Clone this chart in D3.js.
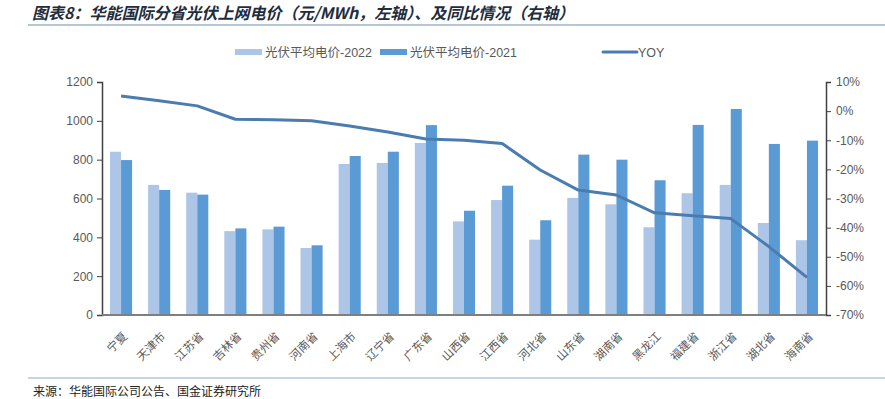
<!DOCTYPE html>
<html>
<head>
<meta charset="utf-8">
<script src="https://cdn.jsdelivr.net/npm/d3@7"></script>
<style>
  body { margin: 0; background: #fff; }
  #chart svg { display: block; }
</style>
</head>
<body>
<div id="chart"></div>
<script>
const provinces = ["宁夏", "天津市", "江苏省", "吉林省", "贵州省", "河南省", "上海市", "辽宁省", "广东省", "山西省",
    "江西省", "河北省", "山东省", "湖南省", "黑龙江", "福建省", "浙江省", "湖北省", "海南省"];
const price2022 = [841, 670, 630, 432, 441, 345, 778, 783, 886, 482, 592, 388, 603, 570, 452, 627, 670, 474, 385];
const price2021 = [798, 644, 620, 446, 455, 359, 819, 841, 978, 537, 666, 488, 826, 800, 694, 979, 1061, 881, 898];
const yoy = [5.2, 3.6, 1.8, -2.8, -3.0, -3.3, -5.1, -7.2, -9.6, -10.0, -11.1, -20.2, -27.1, -28.8, -34.9, -35.9, -36.9, -46.5, -57.1];
const leftTicks = [0, 200, 400, 600, 800, 1000, 1200];
const rightTicks = [10, 0, -10, -20, -30, -40, -50, -60, -70];

const width = 885;
const height = 399;
const margin = { top: 82, right: 59, bottom: 84, left: 102 };

const svg = d3.select("#chart")
    .append("svg")
    .attr("width", width)
    .attr("height", height);

// title + rules
svg.append("text")
    .attr("x", 32)
    .attr("y", 19)
    .style("font-family", "'Noto Sans CJK SC', sans-serif")
    .style("font-weight", "bold")
    .style("font-style", "italic")
    .style("font-size", "16px")
    .attr("fill", "#1f2d3d")
    .text("图表8：华能国际分省光伏上网电价（元/MWh，左轴）、及同比情况（右轴）");

svg.append("line")
    .attr("x1", 28).attr("x2", width)
    .attr("y1", 25).attr("y2", 25)
    .attr("stroke", "#9db3c8").attr("stroke-width", 1.5);

svg.append("line")
    .attr("x1", 28).attr("x2", width)
    .attr("y1", 378).attr("y2", 378)
    .attr("stroke", "#b6c8d8").attr("stroke-width", 1.5);

svg.append("text")
    .attr("x", 33)
    .attr("y", 396)
    .style("font-family", "'Noto Sans CJK SC', sans-serif")
    .style("font-size", "12px")
    .attr("fill", "#222")
    .text("来源：华能国际公司公告、国金证券研究所");

const g = svg.append("g");

const x = d3.scaleBand()
    .domain(provinces)
    .range([margin.left, width - margin.right])
    .paddingInner(0.42)
    .paddingOuter(0.21);

const x1 = d3.scaleBand()
    .domain(["2022", "2021"])
    .range([0, x.bandwidth()]);

const yLeft = d3.scaleLinear()
    .domain([0, 1200])
    .range([height - margin.bottom, margin.top]);

const yRight = d3.scaleLinear()
    .domain([-70, 10])
    .range([height - margin.bottom, margin.top]);

const color = { "2022": "#adc5e6", "2021": "#5b9bd5" };
const lineColor = "#4a7cb0";

// bars
const series = [
    { key: "2022", values: price2022 },
    { key: "2021", values: price2021 }
];

series.forEach(function(s) {
    g.selectAll(".bar" + s.key)
        .data(s.values)
        .join("rect")
        .attr("x", (d, i) => x(provinces[i]) + x1(s.key))
        .attr("y", d => yLeft(d))
        .attr("width", x1.bandwidth())
        .attr("height", d => yLeft(0) - yLeft(d))
        .attr("fill", color[s.key]);
});

// axes
const axisFont = "'Liberation Sans', Arial, sans-serif";

const leftAxis = g.append("g")
    .attr("transform", `translate(${margin.left},0)`)
    .call(d3.axisLeft(yLeft).tickValues(leftTicks).tickSize(5).tickPadding(4).tickFormat(d3.format("d")));
leftAxis.select(".domain").attr("stroke", "#404040").attr("stroke-width", 1.5);
leftAxis.selectAll(".tick line").attr("stroke", "#404040");
leftAxis.selectAll("text")
    .style("font-family", axisFont).style("font-size", "12px").attr("fill", "#595959");

const rightAxis = g.append("g")
    .attr("transform", `translate(${width - margin.right},0)`)
    .call(d3.axisRight(yRight).tickValues(rightTicks).tickSize(5).tickPadding(5)
        .tickFormat(d => d + "%"));
rightAxis.select(".domain").attr("stroke", "#404040").attr("stroke-width", 1.5);
rightAxis.selectAll(".tick line").attr("stroke", "#404040");
rightAxis.selectAll("text")
    .style("font-family", axisFont).style("font-size", "12px").attr("fill", "#595959");

const bottomAxis = g.append("g")
    .attr("transform", `translate(0,${height - margin.bottom})`)
    .call(d3.axisBottom(x).tickSize(0).tickPadding(0));
bottomAxis.select(".domain")
    .attr("d", `M${margin.left},0H${width - margin.right}`)
    .attr("stroke", "#7f7f7f").attr("stroke-width", 2);
bottomAxis.selectAll("text")
    .attr("text-anchor", "end")
    .attr("dy", 0)
    .attr("y", 0)
    .attr("transform", "translate(7,22) rotate(-45)")
    .style("font-family", "'Noto Sans CJK SC', sans-serif")
    .style("font-size", "11.5px")
    .attr("fill", "#595959");

// YOY line
const line = d3.line()
    .x((d, i) => x(provinces[i]) + x.bandwidth() / 2)
    .y(d => yRight(d));

g.append("path")
    .datum(yoy)
    .attr("d", line)
    .attr("fill", "none")
    .attr("stroke", lineColor)
    .attr("stroke-width", 3)
    .attr("stroke-linejoin", "round");

// legend
const legend = svg.append("g")
    .style("font-size", "12.5px")
    .attr("fill", "#595959");

const legendItems = [
    { label: "光伏平均电价-2022", type: "rect", fill: color["2022"], x: 235 },
    { label: "光伏平均电价-2021", type: "rect", fill: color["2021"], x: 380 },
    { label: "YOY", type: "line", fill: lineColor, x: 603 }
];

legendItems.forEach(function(item) {
    if (item.type === "rect") {
        legend.append("rect")
            .attr("x", item.x).attr("y", 49)
            .attr("width", 27).attr("height", 6)
            .attr("fill", item.fill);
    } else {
        legend.append("line")
            .attr("x1", item.x).attr("x2", item.x + 34)
            .attr("y1", 52).attr("y2", 52)
            .attr("stroke", item.fill).attr("stroke-width", 3)
            .attr("stroke-linecap", "round");
    }
    const t = legend.append("text")
        .attr("x", item.type === "rect" ? item.x + 30 : item.x + 35)
        .attr("y", 56.5);
    if (item.type === "rect") {
        const m = item.label.split("-");
        t.append("tspan").style("font-family", "'Noto Sans CJK SC', sans-serif").text(m[0]);
        t.append("tspan").style("font-family", axisFont).text("-" + m[1]);
    } else {
        t.style("font-family", axisFont).text(item.label);
    }
});
</script>
</body>
</html>
